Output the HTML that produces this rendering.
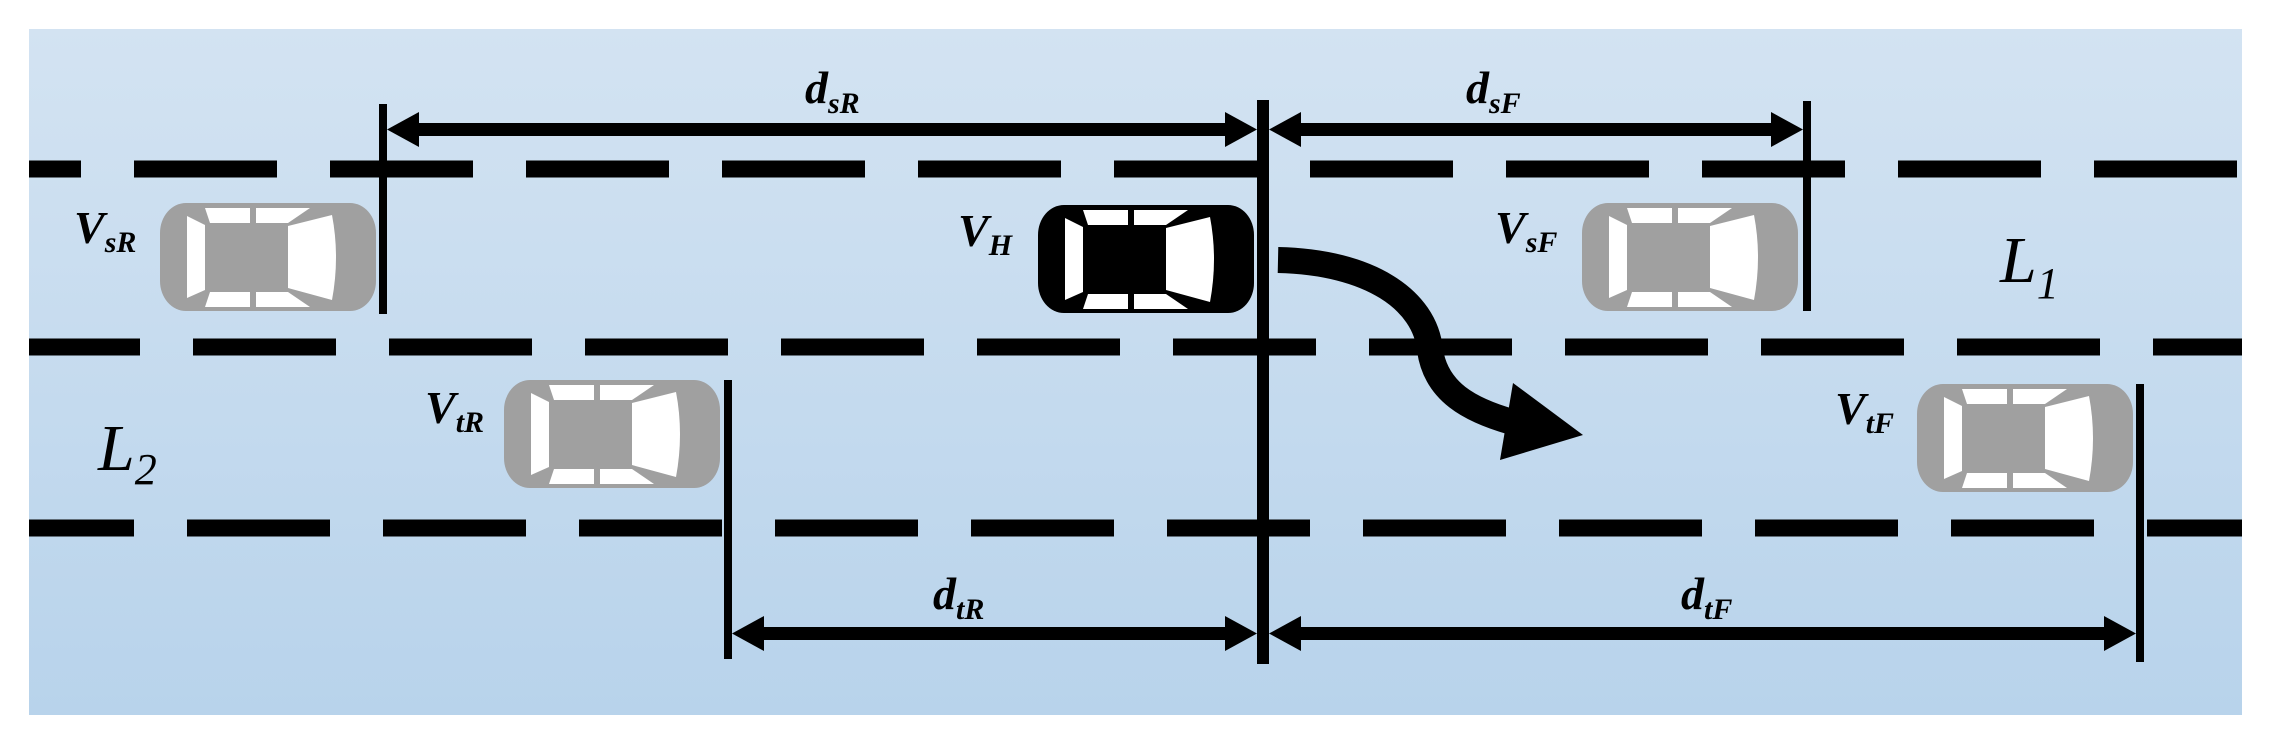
<!DOCTYPE html>
<html><head><meta charset="utf-8"><style>
html,body{margin:0;padding:0;background:#fff;}
svg{display:block;}
text{font-family:"Liberation Serif",serif;font-style:italic;fill:#000;}
</style></head><body>
<svg width="2271" height="745" viewBox="0 0 2271 745" xmlns="http://www.w3.org/2000/svg">
<defs>
<linearGradient id="bg" x1="0" y1="0" x2="0" y2="1">
<stop offset="0" stop-color="#d3e3f2"/><stop offset="1" stop-color="#b8d3eb"/>
</linearGradient>
<g id="car">
<rect x="0" y="0" width="216" height="108" rx="26" ry="30" fill="currentColor"/>
<polygon points="27,13 45,22 45,87 27,95" fill="#fff"/>
<polygon points="45,5 90,5 90,20 50,20" fill="#fff"/>
<polygon points="96,5 150,5 128,20 96,20" fill="#fff"/>
<polygon points="45,104 90,104 90,89 50,89" fill="#fff"/>
<polygon points="96,104 150,104 128,89 96,89" fill="#fff"/>
<path d="M128,23 L172,12 Q180,54 172,97 L128,85 Z" fill="#fff"/>
</g>
</defs>
<rect x="29" y="29" width="2213" height="686" fill="url(#bg)"/>
<g stroke="#000" stroke-width="17" fill="none">
<line x1="29" y1="169" x2="2242" y2="169" stroke-dasharray="143 53" stroke-dashoffset="91"/>
<line x1="29" y1="347" x2="2242" y2="347" stroke-dasharray="143 53" stroke-dashoffset="32"/>
<line x1="29" y1="528" x2="2242" y2="528" stroke-dasharray="143 53" stroke-dashoffset="38"/>
</g>
<!-- vertical lines -->
<rect x="1257" y="100" width="12" height="564" fill="#000"/>
<rect x="379" y="104" width="8" height="210" fill="#000"/>
<rect x="1803" y="101" width="8" height="210" fill="#000"/>
<rect x="724" y="380" width="8" height="279" fill="#000"/>
<rect x="2136" y="384" width="8" height="278" fill="#000"/>
<!-- dimension arrows -->
<g fill="#000">
<rect x="410" y="123" width="825" height="13"/>
<polygon points="387,129.5 419,112 419,147"/>
<polygon points="1257,129.5 1225,112 1225,147"/>
<rect x="1290" y="123" width="485" height="13"/>
<polygon points="1269,129.5 1301,112 1301,147"/>
<polygon points="1803,129.5 1771,112 1771,147"/>
<rect x="755" y="627" width="480" height="13"/>
<polygon points="732,633.5 764,616 764,651"/>
<polygon points="1257,633.5 1225,616 1225,651"/>
<rect x="1290" y="627" width="820" height="13"/>
<polygon points="1269,633.5 1301,616 1301,651"/>
<polygon points="2136,633.5 2104,616 2104,651"/>
</g>
<!-- cars -->
<use href="#car" x="160" y="203" color="#a0a0a0"/>
<use href="#car" x="1038" y="205" color="#000"/>
<use href="#car" x="504" y="380" color="#a0a0a0"/>
<use href="#car" x="1582" y="203" color="#a0a0a0"/>
<use href="#car" x="1917" y="384" color="#a0a0a0"/>
<!-- curved arrow -->
<path d="M1278,260 C1370,262 1425,300 1430,350 C1436,392 1470,410 1512,422" stroke="#000" stroke-width="26" fill="none"/>
<polygon points="1513,383 1583,435 1500,460" fill="#000"/>
<!-- labels -->
<g font-weight="bold">
<text x="805" y="103" font-size="46">d<tspan font-size="30" dy="10">sR</tspan></text>
<text x="1466" y="103" font-size="46">d<tspan font-size="30" dy="10">sF</tspan></text>
<text x="933" y="609" font-size="46">d<tspan font-size="30" dy="10">tR</tspan></text>
<text x="1681" y="609" font-size="46">d<tspan font-size="30" dy="10">tF</tspan></text>
<text x="74" y="243" font-size="46">V<tspan font-size="30" dy="9">sR</tspan></text>
<text x="958" y="246" font-size="46">V<tspan font-size="30" dy="9">H</tspan></text>
<text x="425" y="423" font-size="46">V<tspan font-size="30" dy="9">tR</tspan></text>
<text x="1495" y="243" font-size="46">V<tspan font-size="30" dy="9">sF</tspan></text>
<text x="1835" y="424" font-size="46">V<tspan font-size="30" dy="9">tF</tspan></text>
</g>
<text x="2000" y="282" font-size="66">L<tspan font-size="44" dy="16">1</tspan></text>
<text x="98" y="470" font-size="66">L<tspan font-size="44" dy="14">2</tspan></text>
</svg>
</body></html>
